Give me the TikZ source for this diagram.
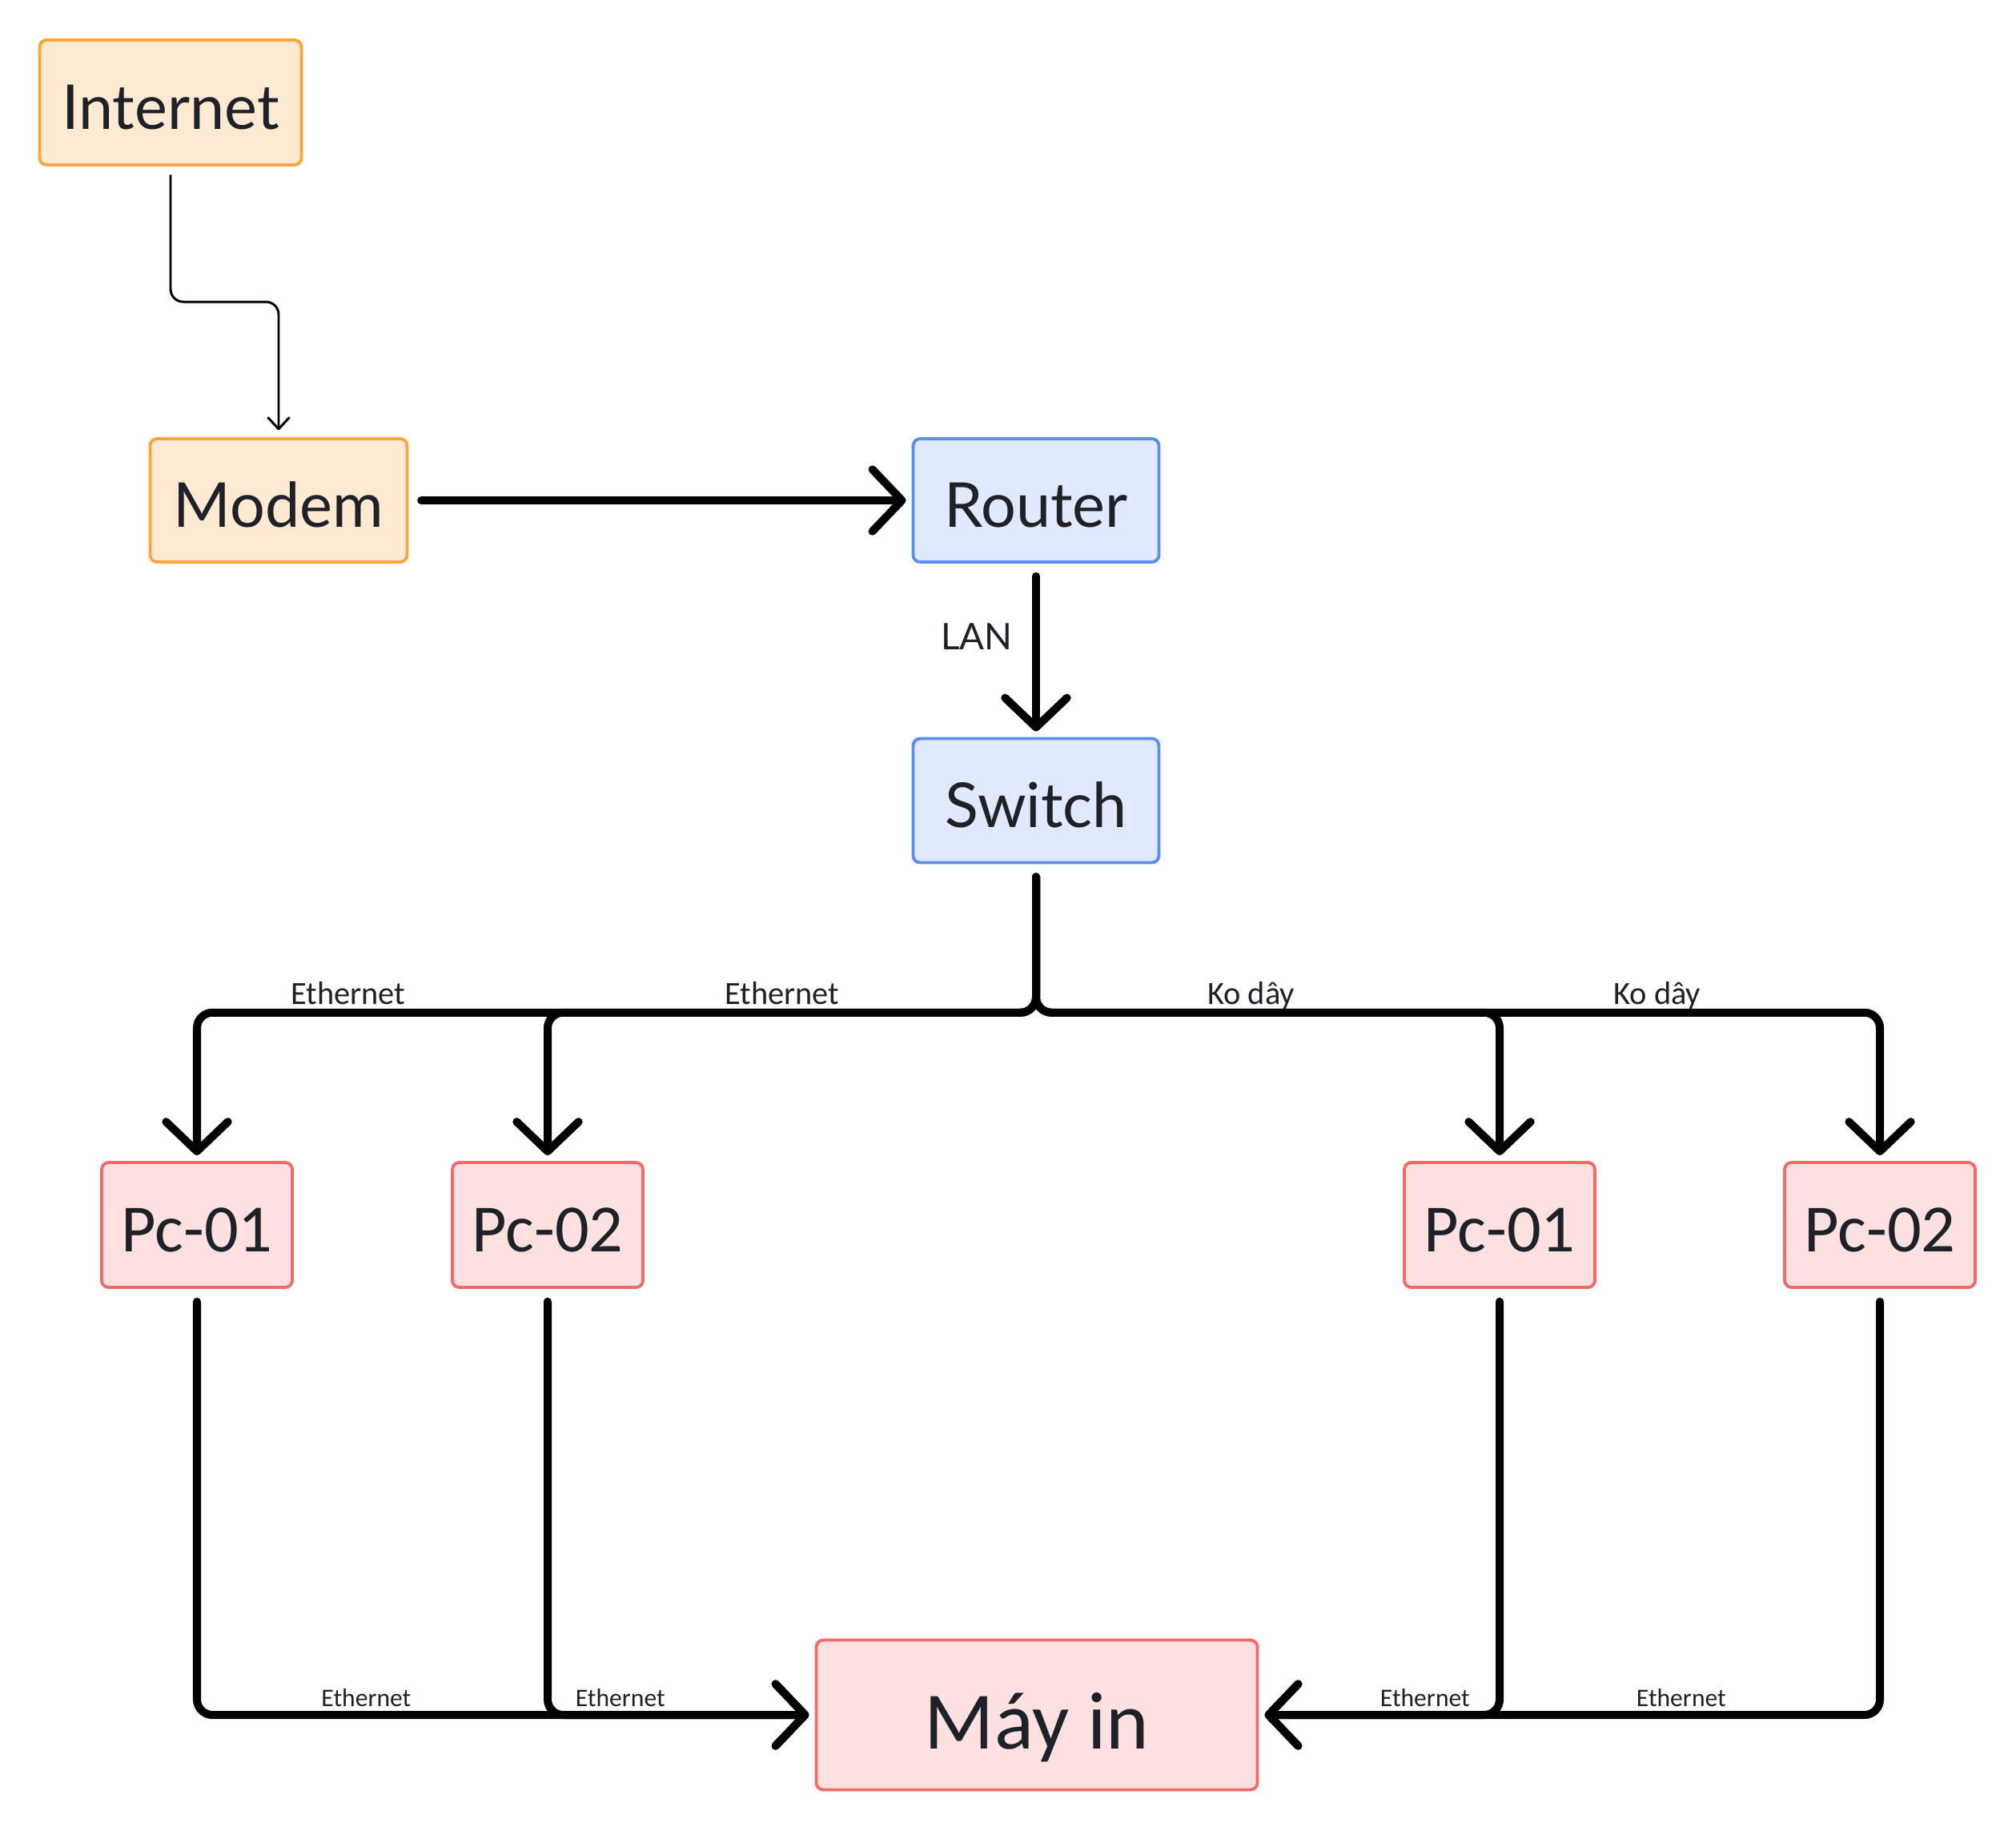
\documentclass[tikz,border=0pt]{standalone}
\usepackage{fontspec}
\setmainfont{Lato}
\newfontfamily\narrowfont{Carlito}
\usetikzlibrary{arrows.meta,calc}

\definecolor{inkgray}{HTML}{1F2128}
\definecolor{orangefill}{HTML}{FEE9D3}
\definecolor{orangeline}{HTML}{FFA53D}
\definecolor{bluefill}{HTML}{E1E9FE}
\definecolor{blueline}{HTML}{5B8DF7}
\definecolor{redfill}{HTML}{FDE1E1}
\definecolor{redline}{HTML}{F26B69}

\begin{document}
\begin{tikzpicture}[
    box/.style={draw, line width=1.1pt, rounded corners=2.5pt, align=center, text=inkgray, inner sep=0pt,
        text height=18.8pt, text depth=0pt},
    netbox/.style={box, fill=orangefill, draw=orangeline, font=\fontsize{22}{26}\selectfont},
    lanbox/.style={box, fill=bluefill, draw=blueline, font=\fontsize{22}{26}\selectfont},
    pcbox/.style={box, fill=redfill, draw=redline, minimum width=2.38cm, minimum height=1.56cm,
        font=\narrowfont\fontsize{24}{28}\selectfont},
    wire/.style={line width=2.85pt, line cap=round, rounded corners=5.5pt, shorten <=4.5pt, shorten >=2pt,
        -{Straight Barb[length=10.5pt,width=22pt,line cap=round,line join=round]}},
    thinwire/.style={line width=0.85pt, rounded corners=4.5pt, shorten <=3pt, shorten >=2.5pt,
        -{Straight Barb[length=4pt,width=7.5pt,line cap=round,line join=round]}},
    cablelabel/.style={above, inner sep=1.5pt, text depth=0pt, text=inkgray, font=\narrowfont\fontsize{11.5}{13}\selectfont},
    smalllabel/.style={above, inner sep=1.5pt, text depth=0pt, text=inkgray, font=\narrowfont\fontsize{9}{11}\selectfont}
  ]
        % Khung hinh
        \useasboundingbox (0,0) rectangle (25.18,-22.86);

        % Internet va modem
        \node[netbox, minimum width=3.27cm, minimum height=1.56cm] (inet) at (2.13,-1.28) {Internet};
        \node[netbox, minimum width=3.21cm, minimum height=1.54cm] (modem) at (3.48,-6.25) {Modem};

        % Router va switch
        \node[lanbox, minimum width=3.07cm, minimum height=1.54cm] (router) at (12.94,-6.25) {Router};
        \node[lanbox, minimum width=3.07cm, minimum height=1.55cm] (sw) at (12.94,-10.00) {Switch};

        % Cac may tinh
        \node[pcbox] (pcA) at (2.46,-15.30) {Pc-01};
        \node[pcbox] (pcB) at (6.84,-15.30) {Pc-02};
        \node[pcbox] (pcC) at (18.73,-15.30) {Pc-01};
        \node[pcbox] (pcD) at (23.48,-15.30) {Pc-02};

        % May in
        \node[pcbox, minimum width=5.51cm, minimum height=1.87cm, text height=24pt,
            font=\narrowfont\fontsize{29}{34}\selectfont] (printer) at (12.95,-21.42) {Máy in};

        % Diem gap cua cac duong
        \coordinate (kink) at ($(inet.south)!0.5!(modem.north)$);
        \coordinate (bus) at ($(sw.south)!0.5!(pcA.north)$);

        % Duong noi phia tren
        \draw[thinwire] (inet.south) |- (kink) -| (modem.north);
        \draw[wire] (modem) -- (router);
        \draw[wire] (router) -- node[pos=0.42, left=7pt, inner sep=0pt, text=inkgray,
            font=\fontsize{13}{15}\selectfont] {LAN} (sw);

        % Tu switch den cac may tinh
        \draw[wire] (sw.south) -- (sw.south |- bus) -| node[cablelabel, pos=0.41] {Ethernet} (pcA.north);
        \draw[wire] (sw.south) -- (sw.south |- bus) -| node[cablelabel, pos=0.26] {Ethernet} (pcB.north);
        \draw[wire] (sw.south) -- (sw.south |- bus) -| node[cablelabel, pos=0.232] {Ko dây} (pcC.north);
        \draw[wire] (sw.south) -- (sw.south |- bus) -| node[cablelabel, pos=0.368] {Ko dây} (pcD.north);

        % Tu cac may tinh den may in
        \draw[wire] (pcA.south) |- node[smalllabel, pos=0.637] {Ethernet} (printer.west);
        \draw[wire] (pcB.south) |- node[smalllabel, pos=0.636] {Ethernet} (printer.west);
        \draw[wire] (pcC.south) |- node[smalllabel, pos=0.655] {Ethernet} (printer.east);
        \draw[wire] (pcD.south) |- node[smalllabel, pos=0.66] {Ethernet} (printer.east);
\end{tikzpicture}
\end{document}
